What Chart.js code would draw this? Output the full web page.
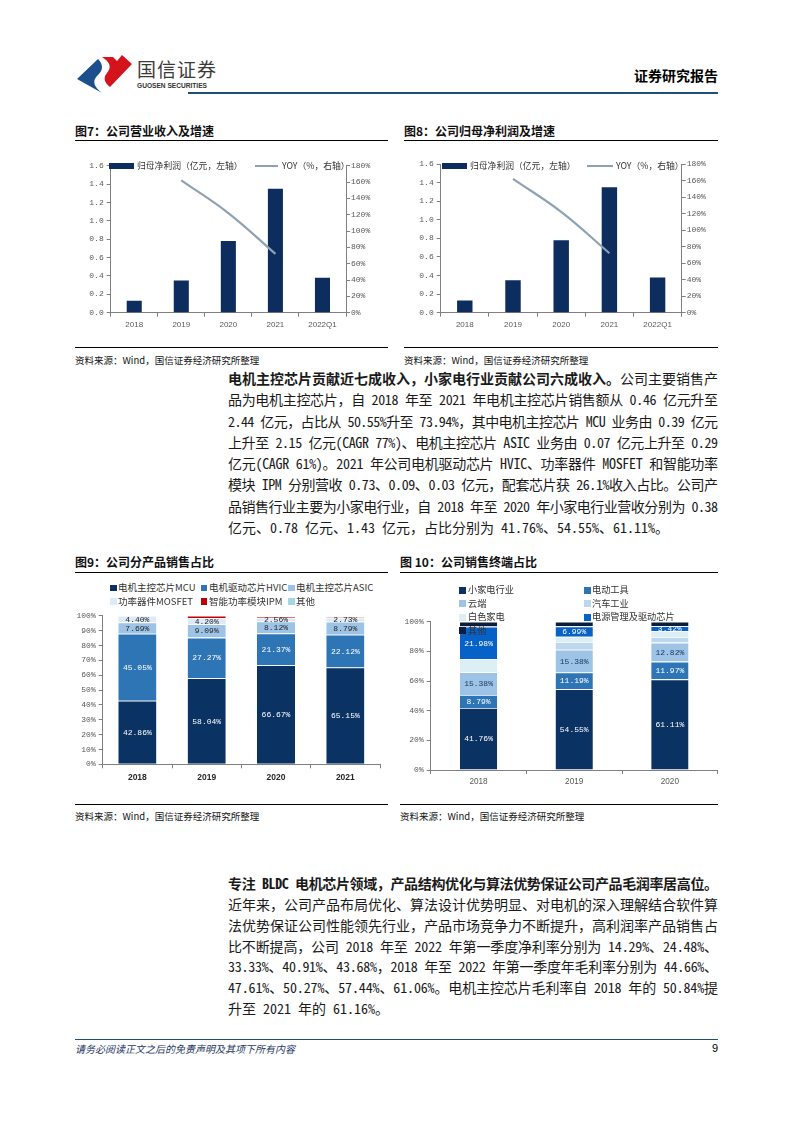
<!DOCTYPE html>
<html lang="zh-CN">
<head>
<meta charset="UTF-8">
<title>国信证券 - 证券研究报告</title>
<script src="https://cdn.jsdelivr.net/npm/chart.js"></script>
<style>
    body {
        margin: 0;
        width: 794px;
        height: 1123px;
        position: relative;
        background: #fff;
        font-family: "Noto Sans CJK SC", sans-serif;
        color: #1a1a1a;
        overflow: hidden;
    }
    .abs { position: absolute; }
    .hline { position: absolute; height: 0; }
    .title { position: absolute; font-size: 12px; font-weight: bold; line-height: 14px; color: #111; }
    .src { position: absolute; font-size: 9.5px; line-height: 12px; color: #111; }
    .box { position: absolute; }
    .sw { position: absolute; }
    .lt { position: absolute; line-height: 1; white-space: nowrap; color: #333; transform: translateY(-50%); }
    .ln {
        position: absolute;
        left: 228px;
        width: 490px;
        font-size: 14px;
        line-height: 18px;
        white-space: nowrap;
        text-align: left;
    }
    .hw { font-feature-settings: "hwid" 1; }
</style>
</head>
<body>

<!-- 页眉 -->
<svg class="abs" style="left:77px;top:54px" width="56" height="40" viewBox="0 0 56 40">
    <path d="M0,25 L21,5 C27,11 26,17 20,22 C15,27 17,33 25,39 Z" fill="#1c4f8c"/>
    <path d="M25,3 L36,3 L40,7 L45,1 L55,10 L33,33 C27,28 26,24 30,19 C35,13 33,8 25,3 Z" fill="#d4141c"/>
</svg>
<div class="abs" style="left:137px;top:58px;font-size:19px;line-height:22px;color:#3a3a3a;letter-spacing:1px">国信证券</div>
<div class="abs" style="left:137px;top:82px;font-size:6.6px;line-height:8px;font-weight:bold;color:#333;font-family:'Liberation Sans',sans-serif">GUOSEN SECURITIES</div>
<div class="abs" style="right:76px;top:66px;font-size:14px;line-height:18px;font-weight:bold;color:#000">证券研究报告</div>
<div class="hline" style="left:188px;top:92px;width:530px;border-top:2px solid #1f4e79"></div>

<!-- 图7 / 图8 -->
<div class="title" style="left:75px;top:124px">图7：公司营业收入及增速</div>
<div class="hline" style="left:75px;top:140px;width:313px;border-top:1.2px solid #000"></div>
<div class="title" style="left:404px;top:124px">图8：公司归母净利润及增速</div>
<div class="hline" style="left:404px;top:140px;width:314px;border-top:1.2px solid #000"></div>

<div class="box" style="left:70px;top:150px;width:320px;height:190px"><canvas id="chart7"></canvas></div>
<div class="box" style="left:400px;top:150px;width:320px;height:190px"><canvas id="chart8"></canvas></div>

<div class="hline" style="left:75px;top:347px;width:313px;border-top:1px solid #000"></div>
<div class="src" style="left:75px;top:354px">资料来源：Wind，国信证券经济研究所整理</div>
<div class="hline" style="left:404px;top:347px;width:314px;border-top:1px solid #000"></div>
<div class="src" style="left:404px;top:354px">资料来源：Wind，国信证券经济研究所整理</div>

<!-- 正文 1 -->
<div class="ln full" style="top:369px"><b>电机主控芯片贡献近七成收入，小家电行业贡献公司六成收入。</b>公司主要销售产</div>
<div class="ln full" style="top:390.3px">品为电机主控芯片，自 2018 年至 2021 年电机主控芯片销售额从 0.46 亿元升至</div>
<div class="ln full" style="top:411.6px">2.44 亿元，占比从 50.55%升至 73.94%，其中电机主控芯片 MCU 业务由 0.39 亿元</div>
<div class="ln full" style="top:432.9px">上升至 2.15 亿元(CAGR 77%)、电机主控芯片 ASIC 业务由 0.07 亿元上升至 0.29</div>
<div class="ln full" style="top:454.1px">亿元(CAGR 61%)。2021 年公司电机驱动芯片 HVIC、功率器件 MOSFET 和智能功率</div>
<div class="ln full" style="top:475.4px">模块 IPM 分别营收 0.73、0.09、0.03 亿元，配套芯片获 26.1%收入占比。公司产</div>
<div class="ln full" style="top:496.7px">品销售行业主要为小家电行业，自 2018 年至 2020 年小家电行业营收分别为 0.38</div>
<div class="ln" style="top:518px">亿元、0.78 亿元、1.43 亿元，占比分别为 41.76%、54.55%、61.11%。</div>

<!-- 图9 / 图10 -->
<div class="title" style="left:75px;top:555px">图9：公司分产品销售占比</div>
<div class="hline" style="left:75px;top:572px;width:313px;border-top:1.2px solid #000"></div>
<div class="title" style="left:400px;top:555px">图 10：公司销售终端占比</div>
<div class="hline" style="left:400px;top:572px;width:318px;border-top:1.2px solid #000"></div>

<div class="box" style="left:70px;top:608px;width:320px;height:182px"><canvas id="chart9"></canvas></div>
<div class="box" style="left:395px;top:612px;width:330px;height:183px"><canvas id="chart10"></canvas></div>

<div class="hline" style="left:75px;top:804px;width:313px;border-top:1px solid #000"></div>
<div class="src" style="left:75px;top:810px">资料来源：Wind，国信证券经济研究所整理</div>
<div class="hline" style="left:400px;top:804px;width:318px;border-top:1px solid #000"></div>
<div class="src" style="left:400px;top:810px">资料来源：Wind，国信证券经济研究所整理</div>

<!-- 正文 2 -->
<div class="ln full" style="top:874px"><b>专注 BLDC 电机芯片领域，产品结构优化与算法优势保证公司产品毛润率居高位。</b></div>
<div class="ln full" style="top:894.8px">近年来，公司产品布局优化、算法设计优势明显、对电机的深入理解结合软件算</div>
<div class="ln full" style="top:915.7px">法优势保证公司性能领先行业，产品市场竞争力不断提升，高利润率产品销售占</div>
<div class="ln full" style="top:936.5px">比不断提高，公司 2018 年至 2022 年第一季度净利率分别为 14.29%、24.48%、</div>
<div class="ln full" style="top:957.3px">33.33%、40.91%、43.68%，2018 年至 2022 年第一季度年毛利率分别为 44.66%、</div>
<div class="ln full" style="top:978.2px">47.61%、50.27%、57.44%、61.06%。电机主控芯片毛利率自 2018 年的 50.84%提</div>
<div class="ln" style="top:999px">升至 2021 年的 61.16%。</div>

<!-- 页脚 -->
<div class="hline" style="left:75px;top:1039px;width:643px;border-top:1.5px solid #1f4e79"></div>
<div class="abs" style="left:75px;top:1042px;font-size:10px;line-height:13px;font-style:italic;color:#1f3864">请务必阅读正文之后的免责声明及其项下所有内容</div>
<div class="abs" style="right:76px;top:1041px;font-size:11px;line-height:14px;color:#000;font-family:'Liberation Sans',sans-serif">9</div>

<script>
    // 图7/图8：归母净利润及增速
    const profitYears = ['2018', '2019', '2020', '2021', '2022Q1'];
    const profitValues = [0.13, 0.35, 0.78, 1.35, 0.38];
    const profitYoy = [null, 162, 122, 72, null];
    const profitLabels = ['归母净利润（亿元，左轴）', 'YOY（%，右轴）'];

    // 图9：分产品销售占比（%）
    const productYears = ['2018', '2019', '2020', '2021'];
    const productNames = ['电机主控芯片MCU', '电机驱动芯片HVIC', '电机主控芯片ASIC', '功率器件MOSFET', '智能功率模块IPM', '其他'];
    const productMcu = [42.86, 58.04, 66.67, 65.15];
    const productHvic = [45.05, 27.27, 21.37, 22.12];
    const productAsic = [7.69, 9.09, 8.12, 8.79];
    const productMosfet = [4.40, 4.20, 2.56, 2.73];
    const productIpm = [0, 1.40, 0.90, 0.91];
    const productOther = [0, 0, 0.38, 0.30];

    // 图10：销售终端占比（%）
    const marketYears = ['2018', '2019', '2020'];
    const marketNames = ['小家电行业', '电动工具', '云端', '汽车工业', '白色家电', '电源管理及驱动芯片', '其他'];
    const marketAppliance = [41.76, 54.55, 61.11];
    const marketTools = [8.79, 11.19, 11.97];
    const marketCloud = [15.38, 15.38, 12.82];
    const marketAuto = [0, 5.24, 3.85];
    const marketWhite = [8.79, 3.50, 3.85];
    const marketPower = [21.98, 6.99, 3.42];
    const marketOther = [3.30, 3.15, 2.98];

    const AXIS = '#808080';
    const MONO = '"Liberation Mono", monospace';
    const SANS = '"Liberation Sans", sans-serif';

    // 正文：半角字符用半角字形，整行按字间距撑满
    document.querySelectorAll('.ln').forEach(line => {
        const walker = document.createTreeWalker(line, NodeFilter.SHOW_TEXT);
        const nodes = [];
        while (walker.nextNode()) nodes.push(walker.currentNode);
        nodes.forEach(node => {
            const html = node.textContent.replace(/[\x20-\x7e]+/g, m => '<span class="hw">' + m + '</span>');
            const tmp = document.createElement('span');
            tmp.innerHTML = html;
            node.replaceWith(...tmp.childNodes);
        });
        if (!line.classList.contains('full')) return;
        const range = document.createRange();
        range.selectNodeContents(line);
        const w = range.getBoundingClientRect().width;
        const n = line.textContent.length;
        line.style.letterSpacing = ((490 - w) / (n - 1)) + 'px';
    });

    Chart.defaults.animation = false;
    Chart.defaults.responsive = true;
    Chart.defaults.maintainAspectRatio = false;
    Chart.defaults.devicePixelRatio = 1;
    Chart.defaults.plugins.legend.display = false;
    Chart.defaults.plugins.tooltip.enabled = false;

    // 柱内数值标签
    const barLabels = {
        id: 'barLabels',
        afterDatasetsDraw(chart) {
            const ctx = chart.ctx;
            chart.data.datasets.forEach((ds, i) => {
                if (!ds.labelColor) return;
                chart.getDatasetMeta(i).data.forEach((bar, j) => {
                    const v = ds.data[j];
                    if (!v) return;
                    ctx.save();
                    ctx.font = '8px ' + MONO;
                    ctx.fillStyle = ds.labelColor;
                    ctx.textAlign = 'center';
                    ctx.textBaseline = 'middle';
                    ctx.fillText(v.toFixed(2) + '%', bar.x, (bar.y + bar.base) / 2 + 0.5);
                    ctx.restore();
                });
            });
        }
    };

    function xAxis(height, font, pad) {
        return {
            grid: { offset: true, drawOnChartArea: false, tickLength: 4, color: AXIS },
            border: { color: AXIS },
            ticks: { font: font, color: '#595959', padding: pad, maxRotation: 0 },
            afterFit: s => { s.height = height; }
        };
    }

    function yAxis(width, pos, max, step, fmt) {
        return {
            position: pos,
            min: 0,
            max: max,
            grid: { drawOnChartArea: false, tickLength: 4, color: AXIS },
            border: { color: AXIS },
            ticks: { stepSize: step, font: { family: MONO, size: 8 }, color: '#595959', padding: pos === 'right' ? 1 : 3, callback: fmt },
            afterFit: s => { s.width = width; }
        };
    }

    // 自定义图例（HTML）
    function buildLegend(chart, slots, fontSize) {
        chart.data.datasets.forEach((ds, i) => {
            const s = slots[i];
            if (!s) return;
            const sw = document.createElement('span');
            sw.className = 'sw';
            sw.style.left = s.x + 'px';
            sw.style.top = (s.y - s.h / 2) + 'px';
            sw.style.width = s.w + 'px';
            sw.style.height = s.h + 'px';
            sw.style.background = ds.type === 'line' ? ds.borderColor : ds.backgroundColor;
            const tx = document.createElement('span');
            tx.className = 'lt';
            tx.textContent = ds.label;
            tx.style.left = s.tx + 'px';
            tx.style.top = s.y + 'px';
            tx.style.fontSize = fontSize + 'px';
            document.body.append(sw, tx);
        });
    }

    function profitChart(id, leftW, rightW, top) {
        return new Chart(document.getElementById(id), {
            data: {
                labels: profitYears,
                datasets: [
                    {
                        type: 'bar',
                        label: profitLabels[0],
                        data: profitValues,
                        backgroundColor: '#0d2d5e',
                        barPercentage: 0.32,
                        categoryPercentage: 1,
                        yAxisID: 'y',
                        order: 1
                    },
                    {
                        type: 'line',
                        label: profitLabels[1],
                        data: profitYoy,
                        borderColor: '#8fa2b4',
                        borderWidth: 2.2,
                        pointRadius: 0,
                        tension: 0.4,
                        yAxisID: 'y1',
                        order: 0
                    }
                ]
            },
            options: {
                layout: { padding: { top: top, left: 0, right: 0, bottom: 0 } },
                scales: {
                    x: xAxis(27.3, { family: SANS, size: 8 }, 3),
                    y: yAxis(leftW, 'left', 1.6, 0.2, v => v.toFixed(1)),
                    y1: yAxis(rightW, 'right', 180, 20, v => v + '%')
                }
            }
        });
    }

    const c7 = profitChart('chart7', 40.7, 44, 15.7);
    const c8 = profitChart('chart8', 40.7, 38.3, 14);

    buildLegend(c7, [
        { x: 109, y: 166, w: 25, h: 6, tx: 137 },
        { x: 255, y: 166, w: 23, h: 2.5, tx: 282 }
    ], 8.8);
    buildLegend(c8, [
        { x: 442, y: 166, w: 25, h: 6, tx: 470 },
        { x: 587, y: 166, w: 26, h: 2.5, tx: 616 }
    ], 8.8);

    function stackSet(label, data, color, labelColor) {
        return {
            label: label,
            data: data,
            backgroundColor: color,
            borderColor: '#ffffff',
            borderWidth: { top: 0.8 },
            borderSkipped: false,
            labelColor: labelColor
        };
    }

    const c9 = new Chart(document.getElementById('chart9'), {
        type: 'bar',
        data: {
            labels: productYears,
            datasets: [
                stackSet(productNames[0], productMcu, '#0a3263', '#ffffff'),
                stackSet(productNames[1], productHvic, '#2e75b6', '#ffffff'),
                stackSet(productNames[2], productAsic, '#9dc3e6', '#262626'),
                stackSet(productNames[3], productMosfet, '#deebf7', '#262626'),
                stackSet(productNames[4], productIpm, '#c00000', null),
                stackSet(productNames[5], productOther, '#a9d5e0', null)
            ]
        },
        options: {
            datasets: { bar: { barPercentage: 0.55, categoryPercentage: 1 } },
            layout: { padding: { top: 6.3, left: 0, right: 10, bottom: 0 } },
            scales: {
                x: Object.assign(xAxis(25.7, { family: SANS, size: 8.5, weight: 'bold' }, 4), { stacked: true }),
                y: Object.assign(yAxis(32.7, 'left', 100, 10, v => v + '%'), { stacked: true })
            }
        },
        plugins: [barLabels]
    });
    c9.options.scales.x.ticks.color = '#262626';
    c9.update();

    buildLegend(c9, [
        { x: 110, y: 588, w: 6.5, h: 6.5, tx: 118 },
        { x: 200.7, y: 588, w: 6.5, h: 6.5, tx: 209 },
        { x: 288, y: 588, w: 6.5, h: 6.5, tx: 296 },
        { x: 110, y: 601.7, w: 6.5, h: 6.5, tx: 118 },
        { x: 200.7, y: 601.7, w: 6.5, h: 6.5, tx: 209 },
        { x: 288, y: 601.7, w: 6.5, h: 6.5, tx: 296 }
    ], 9.5);

    const c10 = new Chart(document.getElementById('chart10'), {
        type: 'bar',
        data: {
            labels: marketYears,
            datasets: [
                stackSet(marketNames[0], marketAppliance, '#0a3263', '#ffffff'),
                stackSet(marketNames[1], marketTools, '#2e75b6', '#ffffff'),
                stackSet(marketNames[2], marketCloud, '#9dc3e6', '#1f3864'),
                stackSet(marketNames[3], marketAuto, '#bdd7ee', null),
                stackSet(marketNames[4], marketWhite, '#ddeff3', null),
                stackSet(marketNames[5], marketPower, '#0662c6', '#ffffff'),
                stackSet(marketNames[6], marketOther, '#0a1e3c', null)
            ]
        },
        options: {
            datasets: { bar: { barPercentage: 0.39, categoryPercentage: 1 } },
            layout: { padding: { top: 9.7, left: 0, right: 7.3, bottom: 0 } },
            scales: {
                x: Object.assign(xAxis(25, { family: SANS, size: 8.2 }, 3), { stacked: true }),
                y: Object.assign(yAxis(35.7, 'left', 100, 20, v => v + '%'), { stacked: true })
            }
        },
        plugins: [barLabels]
    });

    buildLegend(c10, [
        { x: 459, y: 590, w: 7, h: 7, tx: 468 },
        { x: 584, y: 590, w: 7, h: 7, tx: 592 },
        { x: 459, y: 603.6, w: 7, h: 7, tx: 468 },
        { x: 584, y: 603.6, w: 7, h: 7, tx: 592 },
        { x: 459, y: 617.2, w: 7, h: 7, tx: 468 },
        { x: 584, y: 617.2, w: 7, h: 7, tx: 592 },
        { x: 459, y: 630.8, w: 7, h: 7, tx: 468 }
    ], 9.2);
</script>
</body>
</html>
